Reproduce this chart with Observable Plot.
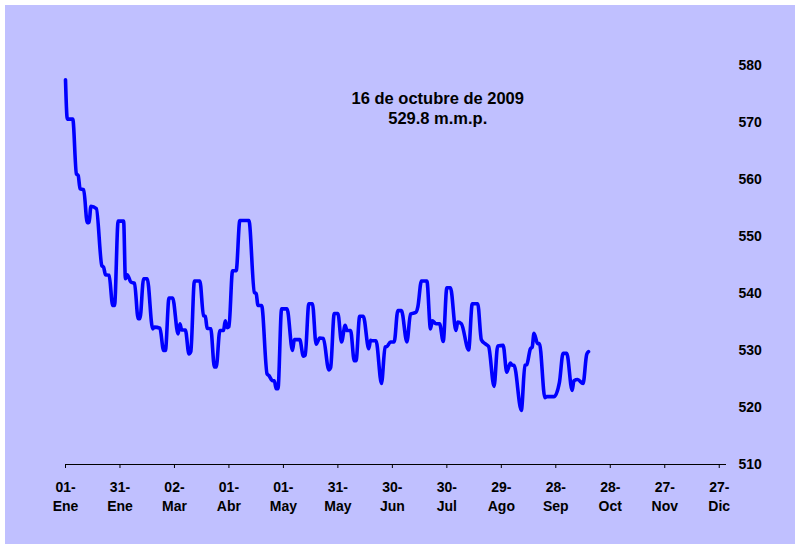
<!DOCTYPE html>
<html><head><meta charset="utf-8">
<script src="https://cdn.jsdelivr.net/npm/d3@7"></script>
<script src="https://cdn.jsdelivr.net/npm/@observablehq/plot@0.6"></script>
<style>
html,body{margin:0;padding:0;background:#fff;}
#chart{position:absolute;left:5px;top:5px;width:790px;height:539px;background:#C0C0FF;overflow:hidden;}
#chart svg{font-family:"Liberation Sans",Arial,sans-serif;font-weight:bold;}
</style></head><body><div id="chart"></div>
<script>
// day offset from 01-Ene-2009
const days = [0,1,4,6,7,8,10,12,13,14,17,20,21,22,24,26,27,29,32,33,34,36,38,40,41,43,45,48,49,52,54,55,57,59,62,63,64,66,68,69,71,74,76,77,78,80,82,83,85,87,88,89,90,92,94,96,101,104,105,106,108,111,112,114,115,116,117,119,122,125,126,129,131,132,134,136,138,140,142,145,146,148,150,152,154,155,157,159,160,162,164,167,168,169,171,174,176,177,179,181,183,185,188,190,193,194,196,199,201,202,204,206,208,210,212,215,216,218,222,224,227,229,231,233,236,238,241,243,245,246,247,251,253,254,256,257,258,260,261,264,265,269,272,274,276,279,280,282,285,287,288];
const values = [577.5,570.6,570.6,561.0,560.7,558.4,558.2,552.4,552.5,555.3,554.9,544.9,544.6,543.3,543.2,537.9,537.9,552.7,552.7,542.6,543.3,542.0,541.8,535.6,535.6,542.6,542.6,533.8,534.1,533.9,530.0,530.0,539.2,539.2,532.9,534.7,533.6,533.6,529.4,529.8,542.2,542.2,536.1,536.0,533.9,533.8,527.1,527.1,533.5,533.5,535.2,534.0,534.2,544.0,544.0,552.8,552.8,540.2,540.0,537.9,537.9,525.9,525.6,524.7,524.7,523.3,523.3,537.3,537.3,530.0,531.9,531.9,529.0,529.2,538.2,538.2,531.1,532.2,532.1,526.6,527.0,536.5,536.5,531.5,534.4,533.5,533.5,528.2,528.2,536.0,536.0,530.3,531.8,531.7,531.7,524.2,530.6,530.7,531.5,531.5,537.0,537.0,531.5,536.4,536.7,537.6,542.2,542.2,533.8,535.2,534.7,534.7,531.6,541.0,541.0,533.5,535.0,534.7,530.1,538.2,538.2,531.9,531.2,530.7,523.7,530.8,530.9,526.2,527.8,527.4,527.4,519.5,527.4,527.5,530.3,530.6,533.0,531.2,531.2,521.7,521.9,521.9,524.4,529.5,529.5,523.0,524.7,524.9,524.2,529.3,529.8];
const tickDays = [0,30,60,90,120,150,180,210,240,270,300,330,360];
const tickLabels = ["01-\nEne","31-\nEne","02-\nMar","01-\nAbr","01-\nMay","31-\nMay","30-\nJun","30-\nJul","29-\nAgo","28-\nSep","28-\nOct","27-\nNov","27-\nDic"];
const yTicks = [510,520,530,540,550,560,570,580];
const noteLines = ["16 de octubre de 2009","529.8 m.m.p."];

const rows = days.map((d,i)=>({day:d, value:values[i]}));

const chart = Plot.plot({
  width:790, height:539,
  marginLeft:60, marginRight:69, marginTop:60, marginBottom:80,
  style:{background:"transparent", fontSize:"14px", color:"#000"},
  x:{domain:[0,364]},
  y:{domain:[510,580]},
  marks:[
    Plot.ruleY([510], {stroke:"#000", strokeWidth:1}),
    Plot.axisX({ticks:tickDays, tickFormat:d=>tickLabels[tickDays.indexOf(d)], tickSize:4, tickPadding:10, label:null, lineHeight:1.35, fontSize:14, strokeOpacity:1}),
    Plot.axisY({anchor:"right", ticks:yTicks, tickSize:0, tickPadding:12, textAnchor:"start", label:null, fontSize:14}),
    Plot.line(rows, {x:"day", y:"value", stroke:"#0000FF", strokeWidth:3.6, curve:"monotone-x"}),
    Plot.text([noteLines.join("\n")], {x:()=>205, y:()=>572.6, text:d=>d, fontSize:16.5, lineHeight:1.2, fontWeight:"bold"})
  ]
});
document.getElementById("chart").appendChild(chart);
</script></body></html>
